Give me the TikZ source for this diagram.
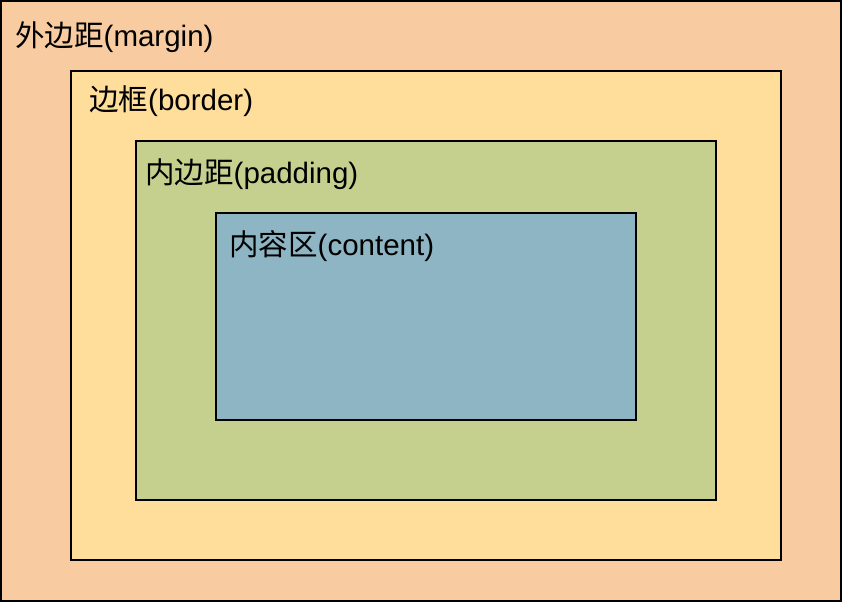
\documentclass[tikz,border=0pt]{standalone}
\usepackage{fontspec}
\setmainfont{Liberation Sans}
\newfontfamily\cjk{Noto Sans CJK SC}
\definecolor{marginfill}{HTML}{F8CCA0}
\definecolor{borderfill}{HTML}{FFDD9A}
\definecolor{paddingfill}{HTML}{C6D08E}
\definecolor{contentfill}{HTML}{8DB5C3}
\begin{document}
\begin{tikzpicture}[x=1pt,y=-1pt,
  boxrect/.style={draw=black,line width=2pt},
  lbl/.style={anchor=base west,inner sep=0pt,font=\fontsize{29.5}{35}\selectfont}]
\useasboundingbox (0,0) rectangle (842,602);
\draw[boxrect,fill=marginfill] (1,1) rectangle (841,601);
\draw[boxrect,fill=borderfill] (71,71) rectangle (781,560);
\draw[boxrect,fill=paddingfill] (136,141) rectangle (716,500);
\draw[boxrect,fill=contentfill] (216,213) rectangle (636,420);
\node[lbl] (lmargin) at (15,47) {{\cjk 外边距}(margin)};
\node[lbl] (lborder) at (89,110) {{\cjk 边框}(border)};
\node[lbl] (lpadding) at (145,183) {{\cjk 内边距}(padding)};
\node[lbl] (lcontent) at (229,255) {{\cjk 内容区}(content)};
\end{tikzpicture}
\end{document}
